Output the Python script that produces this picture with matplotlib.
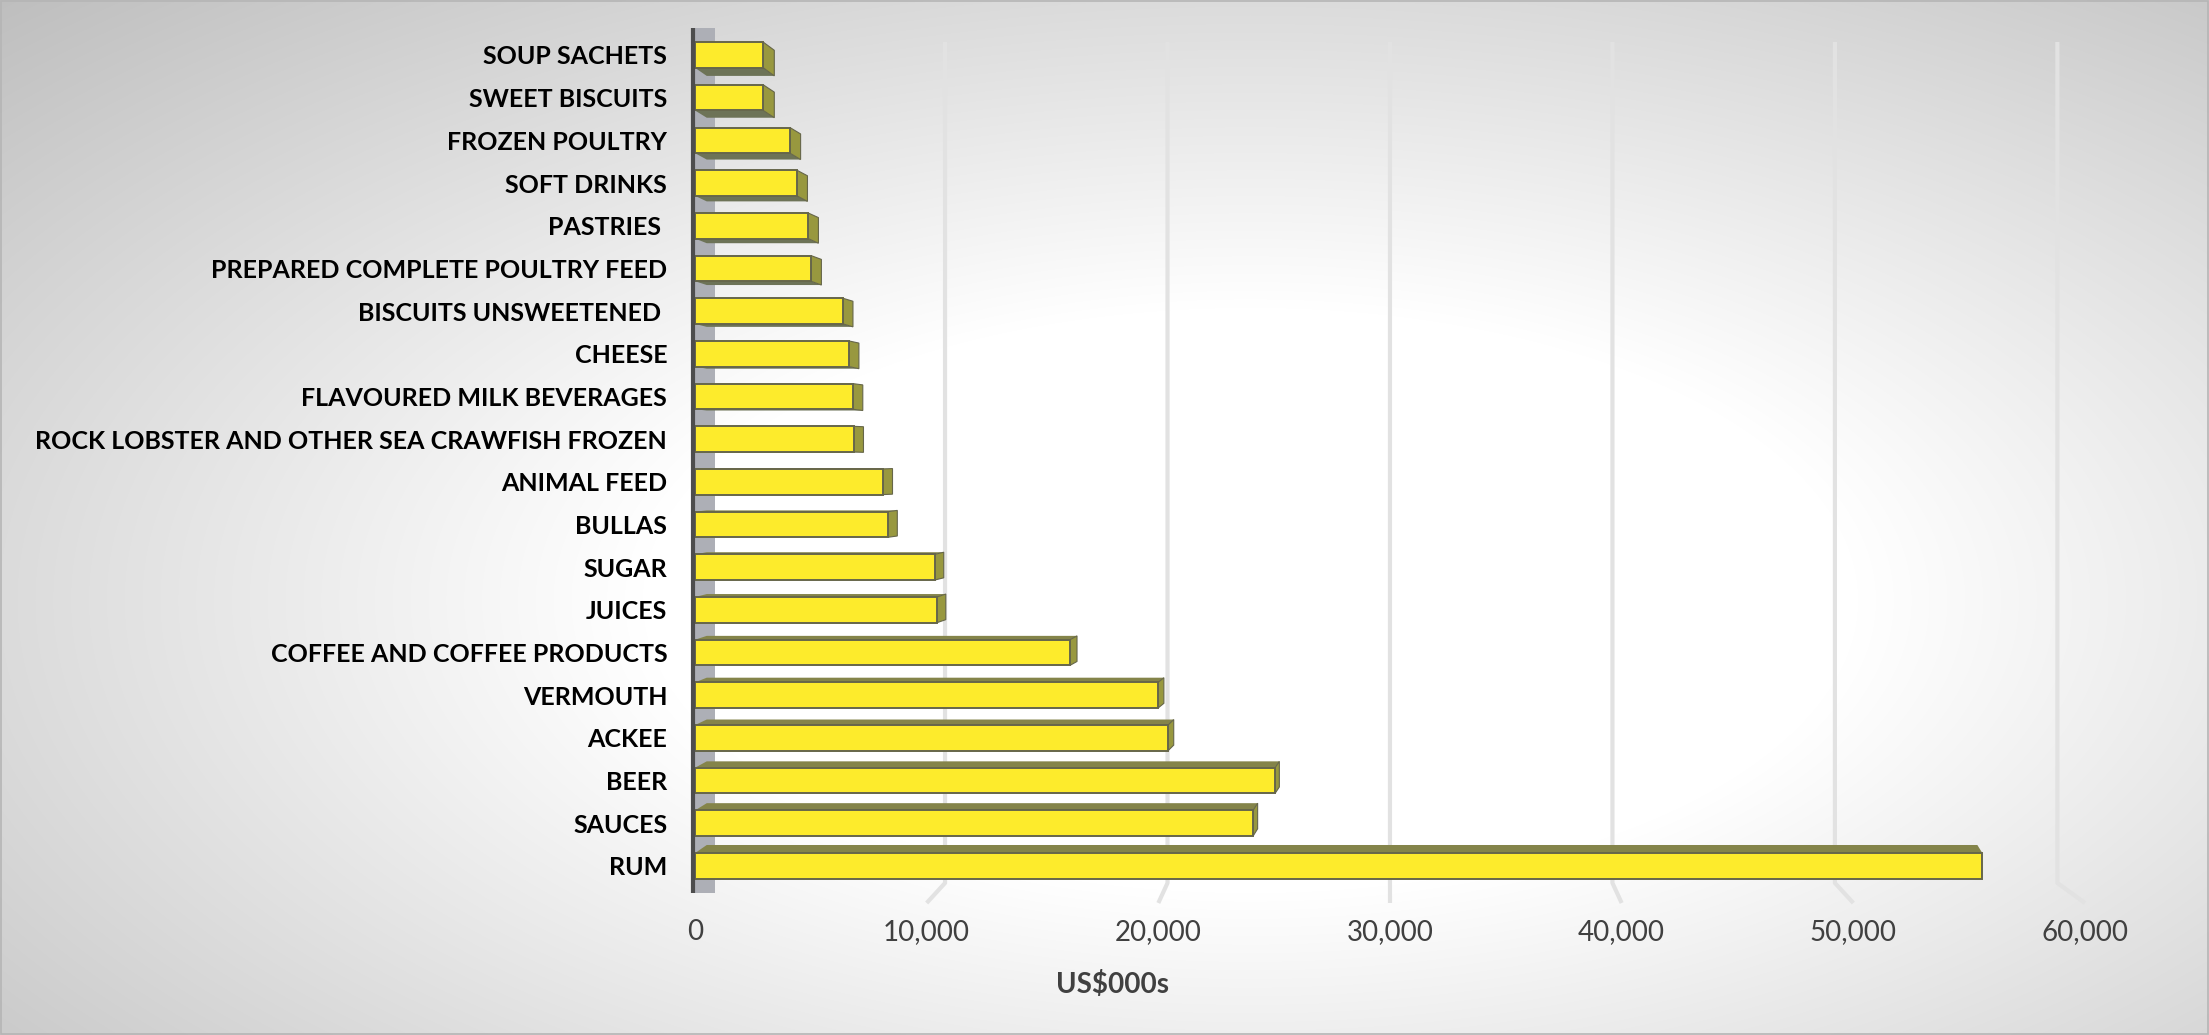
import matplotlib.pyplot as plt
import numpy as np
from matplotlib.patches import Polygon, Rectangle

# data, top to bottom as shown
categories = ['SOUP SACHETS', 'SWEET BISCUITS', 'FROZEN POULTRY', 'SOFT DRINKS', 'PASTRIES ',
              'PREPARED COMPLETE POULTRY FEED', 'BISCUITS UNSWEETENED ', 'CHEESE',
              'FLAVOURED MILK BEVERAGES', 'ROCK LOBSTER AND OTHER SEA CRAWFISH FROZEN',
              'ANIMAL FEED', 'BULLAS', 'SUGAR', 'JUICES', 'COFFEE AND COFFEE PRODUCTS',
              'VERMOUTH', 'ACKEE', 'BEER', 'SAUCES', 'RUM']
values = [2950, 2950, 4100, 4400, 4880, 5010, 6390, 6650, 6820, 6850,
          8120, 8330, 10360, 10450, 16190, 19990, 20420, 25040, 24090, 55570]
xticks = [0, 10000, 20000, 30000, 40000, 50000, 60000]
x_label = 'US$000s'

W, H = 2209, 1035
FONT = 'Lato'

fig = plt.figure(figsize=(W / 100, H / 100), dpi=100)

# background gradient
bg = fig.add_axes([0, 0, 1, 1], zorder=-5)
gx, gy = np.meshgrid(np.arange(W), np.arange(H))
d = np.sqrt(((gx - 1250) / 1350.0) ** 2 + ((gy - 600) / 650.0) ** 2)
t = np.clip((d - 0.45) / 0.9, 0, 1)
g = (255 - 68 * t) / 255.0
bg.imshow(np.dstack([g, g, g]), aspect='auto', extent=[0, W, H, 0])
bg.set_xlim(0, W)
bg.set_ylim(H, 0)
bg.axis('off')
bg.add_patch(Rectangle((1, 1), W - 2, H - 2, fill=False, edgecolor='#b5b5b5', lw=1.2))

x0_px, x1_px = 695, 2085
top_px, bot_px = 28, 893
ax = fig.add_axes([x0_px / W, 1 - bot_px / H, (x1_px - x0_px) / W, (bot_px - top_px) / H])
ax.patch.set_alpha(0)

n = len(categories)
ypos = np.arange(n)
row_px = 42.68
y_first = 55
ax.set_xlim(xticks[0], xticks[-1])
ax.set_ylim((bot_px - y_first) / row_px, (top_px - y_first) / row_px)

xpp = (xticks[-1] - xticks[0]) / (x1_px - x0_px)   # data per pixel in x
ypp = 1 / row_px

# gridlines drawn on the back wall, sloping to the floor front
for tk in xticks[1:]:
    xb = tk * 0.9603 + 1190
    ax.plot([xb, xb, tk], [(42 - y_first) * ypp, (883 - y_first) * ypp, (903 - y_first) * ypp],
            color='#e2e2e2', lw=3, zorder=1, clip_on=False, solid_capstyle='butt')

# side wall
ax.add_patch(Rectangle((0, (28 - y_first) * ypp), 20 * xpp, (893 - 28) * ypp,
                       facecolor='#adafb6', edgecolor='none', zorder=2, clip_on=False))
ax.plot([-2 * xpp, -2 * xpp], [(28 - y_first) * ypp, (893 - y_first) * ypp],
        color='#4d4d4d', lw=3, zorder=6, clip_on=False, solid_capstyle='butt')

h = 0.6
face = '#fdeb2c'
edge = '#66664a'
for i, v in enumerate(values):
    yc = ypos[i]
    y0, y1 = yc - h / 2, yc + h / 2
    end_px = x0_px + v / xpp
    dx = 0.0131 * (1600 - end_px) * xpp
    dy = 0.02 * (460 - (y_first + row_px * i)) * ypp
    dl = 0.0131 * (1600 - 703) * xpp
    if dy > 0:
        ax.add_patch(Polygon([(0, y1), (v, y1), (v + dx, y1 + dy), (dl, y1 + dy)],
                             closed=True, facecolor='#6d7357', edgecolor='none', zorder=3))
    else:
        ax.add_patch(Polygon([(0, y0), (v, y0), (v + dx, y0 + dy), (dl, y0 + dy)],
                             closed=True, facecolor='#84844a', edgecolor='none', zorder=3))
    if dx > 0:
        ax.add_patch(Polygon([(v, y0), (v, y1), (v + dx, y1 + dy), (v + dx, y0 + dy)],
                             closed=True, facecolor='#98983f', edgecolor='#66664a', lw=0.8, zorder=3))
ax.barh(ypos, values, height=h, color=face, edgecolor=edge, linewidth=1.4, zorder=4)

for s in ax.spines.values():
    s.set_visible(False)

ax.set_yticks(ypos)
ax.set_yticklabels(categories, fontfamily=FONT, fontweight='bold', fontsize=18, color='#000000')
ax.set_xticks(xticks)
ax.set_xticklabels([f'{tk:,}' for tk in xticks], fontfamily=FONT, fontsize=20, color='#404040')
ax.tick_params(axis='y', length=0, pad=20)
ax.tick_params(axis='x', length=0, pad=19)

fig.text(1113 / W, 1 - 985 / H, x_label, fontfamily=FONT, fontweight='bold', fontsize=20,
         color='#404040', ha='center', va='center')

fig.savefig('out.png', dpi=100)
